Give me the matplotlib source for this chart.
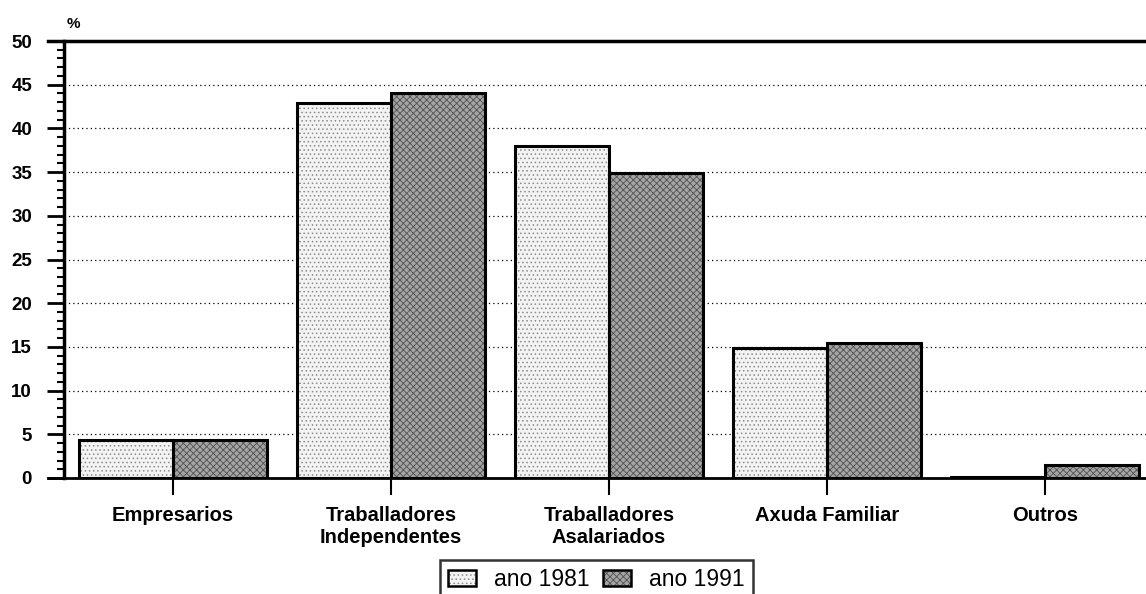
import matplotlib
matplotlib.use("Agg")
import matplotlib.pyplot as plt
from matplotlib.patches import Patch
from matplotlib.legend_handler import HandlerTuple
from matplotlib.ticker import MultipleLocator
import numpy as np

plt.rcParams["font.family"] = ["Liberation Sans", "DejaVu Sans"]
plt.rcParams["hatch.linewidth"] = 0.6

# data (%)
categories = ["Empresarios", "Traballadores\nIndependentes", "Traballadores\nAsalariados",
              "Axuda Familiar", "Outros"]
ano_1981 = [4.35, 42.9, 38.0, 14.85, 0.1]
ano_1991 = [4.4, 44.1, 34.9, 15.4, 1.5]
series_labels = ["ano 1981", "ano 1991"]

FACE = ["#f3f3f3", "#a4a4a4"]
HATCH = ["....", "xxxxx"]
HATCH_COL = ["#8c8c8c", "#505050"]
WIDTH = 0.43

fig = plt.figure(figsize=(11.46, 5.94), dpi=100)
ax = fig.add_axes([64 / 1146, 116 / 594, 1090 / 1146, 437 / 594])

x = np.arange(len(categories))
for i, vals in enumerate([ano_1981, ano_1991]):
    offs = -WIDTH if i == 0 else 0.0
    # textured fill, then black outline on top
    ax.bar(x + offs, vals, WIDTH, align="edge", color=FACE[i], hatch=HATCH[i],
           edgecolor=HATCH_COL[i], linewidth=0, zorder=2)
    ax.bar(x + offs, vals, WIDTH, align="edge", fill=False,
           edgecolor="black", linewidth=2.2, zorder=3)

ax.set_xlim(-0.5, len(categories) - 0.5)
ax.set_ylim(0, 50)

ax.yaxis.set_major_locator(MultipleLocator(5))
ax.yaxis.set_minor_locator(MultipleLocator(1))
ax.tick_params(axis="y", which="major", direction="out", length=12, width=2,
               pad=11, labelsize=13.5)
ax.tick_params(axis="y", which="minor", direction="out", length=5, width=1.5)
for lab in ax.get_yticklabels():
    lab.set_fontweight("bold")

ax.set_xticks(x)
ax.set_xticklabels(categories, fontsize=14.5, fontweight="bold", linespacing=1.2)
ax.tick_params(axis="x", direction="out", length=12, width=1.5, pad=8)

# dotted gridlines every 5 %
for v in range(5, 50, 5):
    ax.axhline(v, color="black", linestyle=(0, (1, 2.5)), linewidth=0.9, zorder=1)

for side in ["top", "right", "bottom"]:
    ax.spines[side].set_visible(False)
ax.spines["left"].set_linewidth(2.5)
ax.plot([-0.015, 1], [1, 1], color="black", linewidth=2.5, transform=ax.transAxes,
        clip_on=False, zorder=4)
ax.plot([-0.015, 1], [0, 0], color="black", linewidth=2.0, transform=ax.transAxes,
        clip_on=False, zorder=4)

fig.text(73 / 1146, 1 - 24 / 594, "%", fontsize=11, fontweight="bold",
         ha="center", va="center")

handles = []
for i in range(2):
    fill = Patch(facecolor=FACE[i], hatch=HATCH[i], edgecolor=HATCH_COL[i], linewidth=0)
    outline = Patch(fill=False, edgecolor="black", linewidth=1.8)
    handles.append((fill, outline))
leg = fig.legend(handles, series_labels, handler_map={tuple: HandlerTuple(ndivide=1)},
                 loc="upper left", bbox_to_anchor=(440 / 1146, 1 - 560 / 594),
                 ncol=2, fontsize=16.5, frameon=True, fancybox=False,
                 handlelength=1.2, handleheight=0.75, handletextpad=0.8,
                 columnspacing=0.6, borderpad=0.35, borderaxespad=0)
leg.get_frame().set_edgecolor("black")
leg.get_frame().set_linewidth(1.8)

fig.savefig("out.png", dpi=100)
